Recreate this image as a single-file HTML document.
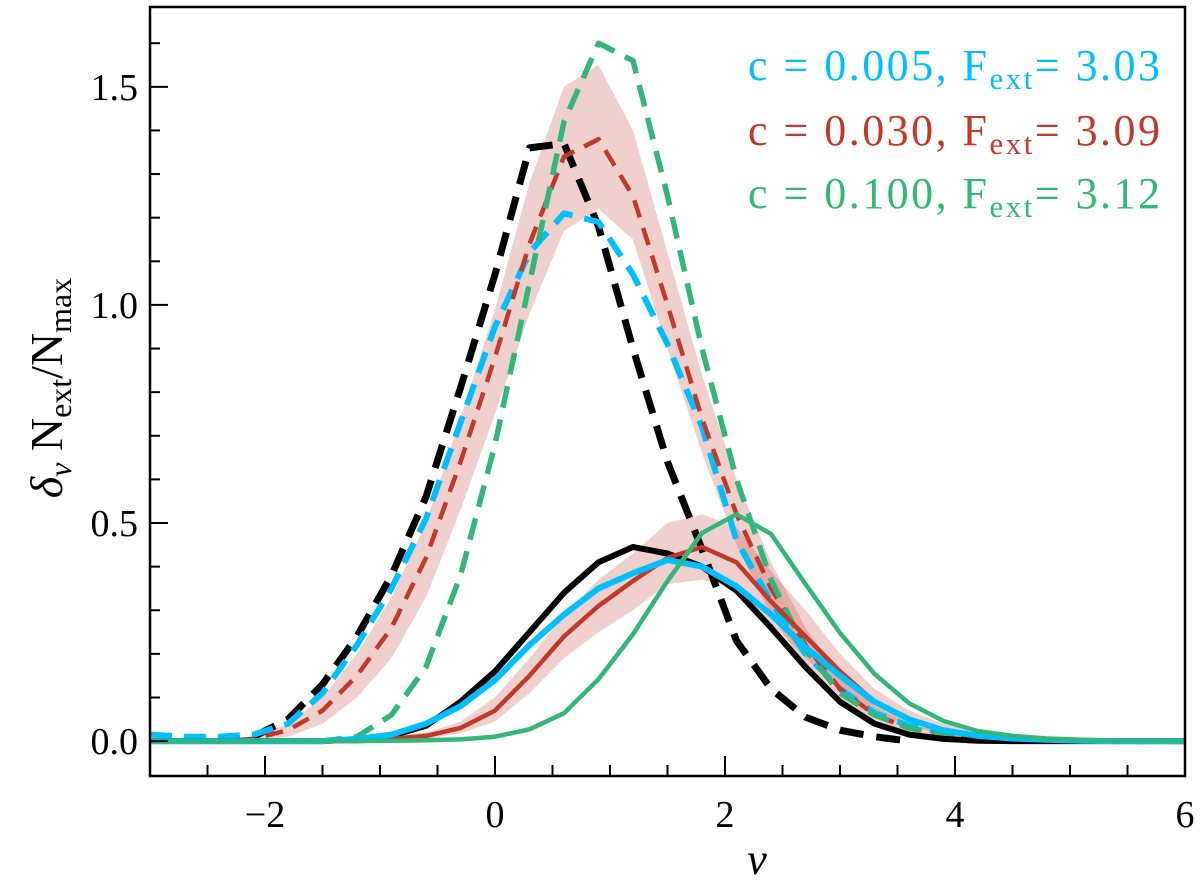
<!DOCTYPE html>
<html><head><meta charset="utf-8">
<style>
html,body{margin:0;padding:0;background:#fff;}
svg text{font-family:"Liberation Serif","DejaVu Serif",serif;}
</style></head>
<body>
<svg id="chart" width="1200" height="888" viewBox="0 0 1200 888" xmlns="http://www.w3.org/2000/svg">
<g id="plot"></g>
<g id="axes"></g>
<g id="legend" font-size="44" text-anchor="end">
  <text x="1160" y="80" fill="#00bfff" textLength="412" lengthAdjust="spacing">c = 0.005, F<tspan font-size="31" dy="9">ext</tspan><tspan dy="-9">= 3.03</tspan></text>
  <text x="1160" y="145" fill="#c0392b" textLength="412" lengthAdjust="spacing">c = 0.030, F<tspan font-size="31" dy="9">ext</tspan><tspan dy="-9">= 3.09</tspan></text>
  <text x="1160" y="208" fill="#33b679" textLength="412" lengthAdjust="spacing">c = 0.100, F<tspan font-size="31" dy="9">ext</tspan><tspan dy="-9">= 3.12</tspan></text>
</g>
<text x="757" y="874" font-size="44" font-style="italic" text-anchor="middle">ν</text>
<text transform="translate(62,388) rotate(-90)" font-size="46" text-anchor="middle"><tspan font-style="italic">δ</tspan><tspan font-size="32" font-style="italic" dy="9">ν</tspan><tspan dy="-9"> N</tspan><tspan font-size="32" dy="9">ext</tspan><tspan dy="-9">/N</tspan><tspan font-size="32" dy="9">max</tspan></text>
</svg>
<script>
const nu = [-3,-2.7,-2.4,-2.1,-1.8,-1.5,-1.2,-0.9,-0.6,-0.3,0,0.3,0.6,0.9,1.2,1.5,1.8,2.1,2.4,2.7,3.0,3.3,3.6,3.9,4.2,4.5,4.8,5.1,5.4,5.7,6.0];
const blackDashed = [null,null,null,0.01,0.05,0.13,0.24,0.38,0.56,0.81,1.07,1.36,1.37,1.18,0.9,0.64,0.44,0.23,0.12,0.055,0.025,0.01,0,null,null,null,null,null,null,null,null];
const blueDashed = [0.015,0.01,0.01,0.015,0.04,0.11,0.22,0.35,0.51,0.73,0.95,1.12,1.21,1.19,1.07,0.91,0.72,0.46,0.32,0.2,0.12,0.065,0.035,0.018,0.009,0.004,0.002,0.001,0,0,0];
const redDashed = [0,0,0,0.005,0.025,0.07,0.15,0.26,0.42,0.64,0.88,1.14,1.34,1.38,1.25,1.0,0.74,0.52,0.35,0.22,0.12,0.06,0.03,0.015,0.008,0.004,0.002,0,0,0,0];
const redDashedHi = [0,0,0,0.01,0.04,0.1,0.2,0.33,0.5,0.74,0.99,1.28,1.5,1.55,1.4,1.12,0.84,0.6,0.41,0.26,0.15,0.08,0.04,0.02,0.01,0.005,0.002,0,0,0,0];
const redDashedLo = [0,0,0,0,0.01,0.04,0.1,0.19,0.33,0.53,0.75,0.98,1.17,1.22,1.15,0.9,0.66,0.45,0.29,0.17,0.09,0.04,0.02,0.01,0.005,0.002,0,0,0,0,0];
const greenDashed = [0,0,0,0,0,0,0.01,0.06,0.17,0.38,0.68,1.05,1.42,1.6,1.56,1.25,0.9,0.6,0.37,0.21,0.11,0.06,0.03,0.015,0.008,0.004,0.002,0,0,0,0];
const blackSolid = [0,0,0,0,0,0,0.004,0.012,0.035,0.09,0.16,0.25,0.34,0.41,0.445,0.43,0.40,0.345,0.26,0.17,0.09,0.04,0.015,0.005,0.001,0,0,0,0,0,0];
const blueSolid = [0,0,0,0,0,0,0.005,0.015,0.04,0.08,0.14,0.22,0.29,0.35,0.385,0.415,0.40,0.355,0.29,0.215,0.15,0.09,0.05,0.025,0.012,0.006,0.003,0.001,0,0,0];
const redSolid = [0,0,0,0,0,0,0,0.005,0.012,0.03,0.07,0.15,0.24,0.31,0.367,0.42,0.445,0.41,0.32,0.24,0.16,0.09,0.05,0.025,0.012,0.006,0.003,0.001,0,0,0];
const redSolidHi = [0,0,0,0,0,0,0,0.01,0.02,0.045,0.1,0.19,0.29,0.37,0.43,0.5,0.52,0.49,0.39,0.3,0.2,0.12,0.07,0.04,0.02,0.01,0.005,0.002,0,0,0];
const redSolidLo = [0,0,0,0,0,0,0,0,0.005,0.018,0.045,0.11,0.19,0.25,0.3,0.36,0.37,0.35,0.27,0.19,0.12,0.065,0.035,0.015,0.007,0.003,0,0,0,0,0];
const greenSolid = [0,0,0,0,0,0,0,0.001,0.002,0.004,0.01,0.027,0.064,0.142,0.245,0.367,0.477,0.52,0.475,0.36,0.248,0.154,0.087,0.046,0.023,0.012,0.006,0.003,0.001,0,0];
const xTicks = [-2,0,2,4,6];
const xTickLabels = ["−2","0","2","4","6"];
const yTicks = [0,0.5,1.0,1.5];
const yTickLabels = ["0.0","0.5","1.0","1.5"];

const L=150,R=1185,T=7,B=776;
const X0=-3,X1=6,Y0=-0.08,Y1=1.683;
const xs=v=>L+(v-X0)/(X1-X0)*(R-L);
const ys=v=>B-(v-Y0)/(Y1-Y0)*(B-T);
const NS="http://www.w3.org/2000/svg";
const plot=document.getElementById('plot');
const axes=document.getElementById('axes');
function mk(tag,parent){const e=document.createElementNS(NS,tag);parent.appendChild(e);return e;}

const clip=mk('clipPath',plot);clip.setAttribute('id','clp');
const cr=mk('rect',clip);cr.setAttribute('x',L);cr.setAttribute('y',T);cr.setAttribute('width',R-L);cr.setAttribute('height',B-T);
const g=mk('g',plot);g.setAttribute('clip-path','url(#clp)');

function band(lo,hi,name){
  let pts=[];
  for(let i=0;i<nu.length;i++)pts.push(xs(nu[i]).toFixed(1)+','+ys(hi[i]).toFixed(1));
  for(let i=nu.length-1;i>=0;i--)pts.push(xs(nu[i]).toFixed(1)+','+ys(lo[i]).toFixed(1));
  const p=mk('polygon',g);
  p.setAttribute('points',pts.join(' '));
  p.setAttribute('fill','#c0392b');p.setAttribute('fill-opacity','0.24');
  
  
}
function line(vals,color,w,dash,name){
  let d='',pen=false;
  for(let i=0;i<nu.length;i++){
    if(vals[i]===null){pen=false;continue;}
    d+=(pen?'L':'M')+xs(nu[i]).toFixed(1)+','+ys(vals[i]).toFixed(1);pen=true;
  }
  const p=mk('path',g);
  p.setAttribute('d',d);p.setAttribute('fill','none');p.setAttribute('stroke',color);
  p.setAttribute('stroke-width',w);p.setAttribute('stroke-linejoin','round');
  if(dash)p.setAttribute('stroke-dasharray',dash);
  
  
}
band(redDashedLo,redDashedHi,'band-red-dashed');
band(redSolidLo,redSolidHi,'band-red-solid');
line(blackDashed,'#000',7,'24 13','line-black-dashed');
line(blueDashed,'#00bfff',6,'22 12','line-blue-dashed');
line(redDashed,'#c0392b',4.5,'18 11','line-red-dashed');
line(greenDashed,'#33b679',5.5,'22 12','line-green-dashed');
line(blackSolid,'#000',6,null,'line-black-solid');
line(redSolid,'#c0392b',4.5,null,'line-red-solid');
line(blueSolid,'#00bfff',6,null,'line-blue-solid');
line(greenSolid,'#33b679',4.5,null,'line-green-solid');

const fr=mk('rect',axes);
fr.setAttribute('x',L);fr.setAttribute('y',T);fr.setAttribute('width',R-L);fr.setAttribute('height',B-T);
fr.setAttribute('fill','none');fr.setAttribute('stroke','#000');fr.setAttribute('stroke-width',2.5);


function tick(x1,y1,x2,y2,name){const t=mk('line',axes);t.setAttribute('x1',x1);t.setAttribute('y1',y1);t.setAttribute('x2',x2);t.setAttribute('y2',y2);t.setAttribute('stroke','#000');t.setAttribute('stroke-width',2);

}
for(let v=-2.5;v<6;v+=0.5){const major=Math.abs(v-Math.round(v/2)*2)<1e-6;tick(xs(v),B,xs(v),B-(major?20:11),major?'x-major-tick':'x-minor-tick');}
for(let k=0;k<=16;k++){const v=k/10;const major=k%5===0;tick(L,ys(v),L+(major?18:10),ys(v),major?'y-major-tick':'y-minor-tick');}
xTicks.forEach((v,i)=>{const t=mk('text',axes);t.setAttribute('x',xs(v));t.setAttribute('y',827);t.setAttribute('font-size','38');t.setAttribute('text-anchor','middle');t.textContent=xTickLabels[i];

});
yTicks.forEach((v,i)=>{const t=mk('text',axes);t.setAttribute('x',138);t.setAttribute('y',ys(v)+13);t.setAttribute('font-size','38');t.setAttribute('text-anchor','end');t.textContent=yTickLabels[i];

});
</script>
</body></html>
